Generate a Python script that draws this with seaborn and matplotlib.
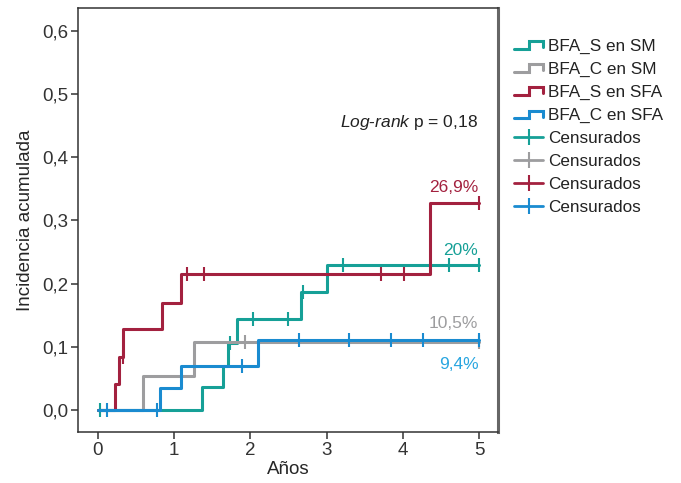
#### Incidencia acumulada (Kaplan-Meier) por grupo ####

import numpy as np
import pandas as pd
import matplotlib
matplotlib.use('Agg')
import matplotlib.pyplot as plt
from matplotlib.lines import Line2D
from matplotlib.legend_handler import HandlerBase
import seaborn as sns

#### Datos ####
# tiempos de evento (años) e incidencia acumulada después de cada salto
t_s_sm = [0, 1.36, 1.64, 1.71, 1.82, 2.67, 3.01, 5.0]
y_s_sm = [0, 0.036, 0.070, 0.106, 0.144, 0.186, 0.230, 0.230]
cens_t_s_sm = [0.03, 1.74, 2.03, 2.50, 2.69, 3.21, 4.61, 5.0]

t_c_sm = [0, 0.59, 1.26, 5.0]
y_c_sm = [0, 0.053, 0.107, 0.107]
cens_t_c_sm = [1.93, 5.0]

t_s_sfa = [0, 0.22, 0.28, 0.335, 0.84, 1.09, 4.36, 5.0]
y_s_sfa = [0, 0.041, 0.083, 0.128, 0.170, 0.215, 0.328, 0.328]
cens_t_s_sfa = [0.325, 1.17, 1.39, 3.72, 4.02, 5.0]

t_c_sfa = [0, 0.82, 1.09, 2.10, 5.0]
y_c_sfa = [0, 0.034, 0.069, 0.110, 0.110]
cens_t_c_sfa = [0.12, 0.78, 1.89, 2.64, 3.30, 3.85, 4.27, 5.0]

grupos = ['BFA_S en SM', 'BFA_C en SM', 'BFA_S en SFA', 'BFA_C en SFA']
etiquetas_final = ['20%', '10,5%', '26,9%', '9,4%']
y_ticks = [0.0, 0.1, 0.2, 0.3, 0.4, 0.5, 0.6]
y_ticklabels = ['0,0', '0,1', '0,2', '0,3', '0,4', '0,5', '0,6']
x_ticks = [0, 1, 2, 3, 4, 5]

colores = ['#16a097', '#9d9d9f', '#a3213f', '#1a8bd0']
colores_texto = ['#16a097', '#9d9d9f', '#a3213f', '#29a6e0']

series = [
    (t_s_sm, y_s_sm, cens_t_s_sm),
    (t_c_sm, y_c_sm, cens_t_c_sm),
    (t_s_sfa, y_s_sfa, cens_t_s_sfa),
    (t_c_sfa, y_c_sfa, cens_t_c_sfa),
]

#### Estilo ####
sns.set_style('ticks')
plt.rcParams['font.family'] = ['Liberation Sans', 'DejaVu Sans']
plt.rcParams['mathtext.fontset'] = 'custom'
plt.rcParams['mathtext.it'] = 'Liberation Sans:italic'
plt.rcParams['mathtext.rm'] = 'Liberation Sans'
plt.rcParams['axes.edgecolor'] = '#333333'
plt.rcParams['xtick.color'] = '#333333'
plt.rcParams['ytick.color'] = '#333333'
plt.rcParams['text.color'] = '#222222'

fig = plt.figure(figsize=(6.81, 4.83), dpi=100)
ax = fig.add_axes([0.1145, 0.1056, 0.617, 0.8775])

# orden de dibujo: gris, verde, rojo, azul (azul encima)
orden = [1, 0, 2, 3]
for i in orden:
    t, y, cens = series[i]
    df = pd.DataFrame({'t': t, 'y': y})
    sns.lineplot(data=df, x='t', y='y', ax=ax, color=colores[i], lw=2.2,
                 drawstyle='steps-post', estimator=None, zorder=2 + i)
    # valor de la curva en los tiempos censurados
    idx = np.searchsorted(t, cens, side='right') - 1
    yc = np.array(y)[idx]
    ax.plot(cens, yc, ls='none', marker='|', markersize=10, mew=1.5,
            color=colores[i], zorder=2 + i)

#### Etiquetas finales ####
pos_etq = [0.253, 0.137, 0.352, 0.072]
for i in range(4):
    ax.text(4.99, pos_etq[i], etiquetas_final[i], color=colores_texto[i],
            ha='right', va='center', fontsize=12.5)

ax.text(4.99, 0.455, r'$\mathit{Log}$' + '-' + r'$\mathit{rank}$' + ' p = 0,18',
        ha='right', va='center', fontsize=12.5)

#### Ejes ####
ax.set_xlim(-0.26, 5.25)
ax.set_ylim(-0.035, 0.636)
ax.set_xticks(x_ticks)
ax.set_xticklabels([str(v) for v in x_ticks], fontsize=13.5)
ax.set_yticks(y_ticks)
ax.set_yticklabels(y_ticklabels, fontsize=13.5)
ax.set_xlabel('Años', fontsize=13.5, labelpad=2)
ax.set_ylabel('Incidencia acumulada', fontsize=13.5, labelpad=6)
for s in ax.spines.values():
    s.set_linewidth(1.1)
ax.spines['right'].set_linewidth(2.2)
ax.spines['right'].set_color('#666666')
ax.tick_params(length=5, width=1.1, pad=2)


#### Leyenda con icono escalonado ####
class StepHandler(HandlerBase):
    def create_artists(self, legend, orig_handle, xdescent, ydescent,
                       width, height, fontsize, trans):
        xs = np.array([0, 0.5, 0.5, 1.0, 1.0]) * width - xdescent
        ys = np.array([0.15, 0.15, 0.8, 0.8, 0.3]) * height - ydescent
        ln = Line2D(xs, ys, color=orig_handle.get_color(), lw=2.2,
                    solid_joinstyle='miter')
        ln.set_transform(trans)
        return [ln]


handles = []
labels = []
for i in range(4):
    handles.append(Line2D([], [], color=colores[i]))
    labels.append(grupos[i])
for i in range(4):
    handles.append(Line2D([0], [0], color=colores[i], lw=2, marker='|',
                          markersize=11, mew=1.5))
    labels.append('Censurados')

handler_map = {h: StepHandler() for h in handles[:4]}
fig.legend(handles, labels, handler_map=handler_map, loc='upper left',
           bbox_to_anchor=(0.745, 0.934), frameon=False, fontsize=12.3,
           handlelength=1.7, handletextpad=0.3, labelspacing=0.47,
           borderaxespad=0)

fig.savefig('out.png', dpi=100)
plt.close(fig)
